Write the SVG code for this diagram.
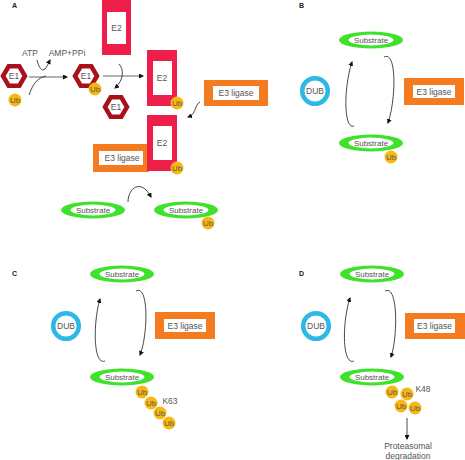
<svg xmlns="http://www.w3.org/2000/svg" width="465" height="460" viewBox="0 0 465 460">
<defs>
<style>
text{font-family:"Liberation Sans",Arial,sans-serif;fill:#555;text-anchor:middle}
.t{font-size:8.5px}
.s{font-size:8px}
.lbl{font-size:7px;font-weight:bold;fill:#222;text-anchor:start}
.e2o{fill:#EF1F4B}
.e3o{fill:#F47B20}
.in{fill:#fff}
.hex{fill:#fff;stroke:#A8101A;stroke-width:4.5;stroke-linejoin:miter}
.ub{fill:#F7B814}
.sg{fill:#3EE22A}
.dub{fill:#fff;stroke:#2DB9E6;stroke-width:4.5}
.ln{fill:none;stroke:#333;stroke-width:0.9}
.lg{fill:none;stroke:#666;stroke-width:1.1}
</style>
<marker id="ah" viewBox="0 0 10 10" refX="8" refY="5" markerWidth="5" markerHeight="5" orient="auto" markerUnits="userSpaceOnUse">
<path d="M0,0 L10,5 L0,10 z" fill="#111"/>
</marker>
</defs>
<rect width="465" height="460" fill="#fff"/>

<!-- Panel labels -->
<text class="lbl" x="12" y="8">A</text>
<text class="lbl" x="299" y="8">B</text>
<text class="lbl" x="12" y="276">C</text>
<text class="lbl" x="299" y="276">D</text>

<!-- Panel A nodes -->
<g id="a-e1-1"><polygon class="hex" points="3,76 8.7,66.3 19.3,66.3 25,76 19.3,85.7 8.7,85.7"/><text class="t" x="14" y="79">E1</text></g>
<g id="a-ub-1"><circle cx="15" cy="100" r="6.5" class="ub"/><text class="s" x="15" y="103">Ub</text></g>
<g id="a-atp"><text class="t" x="30" y="56">ATP</text></g>
<g id="a-amp"><text class="t" x="67" y="56">AMP+PPi</text></g>
<g id="a-e1-2"><polygon class="hex" points="75,76 80.7,66.3 91.3,66.3 97,76 91.3,85.7 80.7,85.7"/><text class="t" x="86" y="79">E1</text><circle cx="95" cy="89" r="6.5" class="ub"/><text class="s" x="95" y="92">Ub</text></g>
<g id="a-e1-3"><polygon class="hex" points="105,107 110.7,97.3 121.3,97.3 127,107 121.3,116.7 110.7,116.7"/><text class="t" x="116" y="110">E1</text></g>
<g id="a-e2-1"><rect class="e2o" x="102" y="0" width="29" height="55"/><rect class="in" x="107" y="12" width="19" height="32"/><text class="t" x="116.5" y="31">E2</text></g>
<g id="a-e2-2"><rect class="e2o" x="147" y="50" width="30" height="56"/><rect class="in" x="153" y="61" width="19" height="34"/><text class="t" x="162" y="81">E2</text><circle cx="177" cy="103" r="6.5" class="ub"/><text class="s" x="177" y="106">Ub</text></g>
<g id="a-e3-1"><rect class="e3o" x="204" y="80" width="64" height="26"/><rect class="in" x="213" y="86" width="46" height="14"/><text class="t" x="236" y="96">E3 ligase</text></g>
<g id="a-e3-2"><rect class="e3o" x="93" y="144" width="56" height="28"/><rect class="in" x="99" y="151" width="44" height="14"/><text class="t" x="122" y="161">E3 ligase</text></g>
<g id="a-e2-3"><rect class="e2o" x="147" y="115" width="30" height="56"/><rect class="in" x="153" y="126" width="19" height="34"/><text class="t" x="162" y="146">E2</text><circle cx="177" cy="168" r="6.5" class="ub"/><text class="s" x="177" y="171">Ub</text></g>
<g id="a-sub-1"><ellipse class="sg" cx="93" cy="210" rx="32" ry="8.5"/><ellipse class="in" cx="93" cy="210" rx="22.5" ry="5.4"/><text class="s" x="93" y="213">Substrate</text></g>
<g id="a-sub-2"><ellipse class="sg" cx="186" cy="210" rx="32" ry="8.5"/><ellipse class="in" cx="186" cy="210" rx="22.5" ry="5.4"/><text class="s" x="186" y="213">Substrate</text><circle cx="208" cy="223" r="6.5" class="ub"/><text class="s" x="208" y="226">Ub</text></g>

<!-- Panel B nodes -->
<g id="b-sub-1"><ellipse class="sg" cx="371" cy="40" rx="32" ry="8.5"/><ellipse class="in" cx="371" cy="40" rx="22.5" ry="5.4"/><text class="s" x="371" y="43">Substrate</text></g>
<g id="b-dub"><circle class="dub" cx="315" cy="91" r="12.8"/><text class="t" x="315" y="94">DUB</text></g>
<g id="b-e3"><rect class="e3o" x="404" y="78" width="60" height="27"/><rect class="in" x="413" y="85" width="42" height="13"/><text class="t" x="434" y="94.5">E3 ligase</text></g>
<g id="b-sub-2"><ellipse class="sg" cx="371" cy="143" rx="32" ry="8.5"/><ellipse class="in" cx="371" cy="143" rx="22.5" ry="5.4"/><text class="s" x="371" y="146">Substrate</text><circle cx="391" cy="157" r="6.5" class="ub"/><text class="s" x="391" y="160">Ub</text></g>

<!-- Panel C nodes -->
<g id="c-sub-1"><ellipse class="sg" cx="122" cy="274" rx="32" ry="8.5"/><ellipse class="in" cx="122" cy="274" rx="22.5" ry="5.4"/><text class="s" x="122" y="277">Substrate</text></g>
<g id="c-dub"><circle class="dub" cx="66" cy="326" r="12.8"/><text class="t" x="66" y="329">DUB</text></g>
<g id="c-e3"><rect class="e3o" x="155" y="312" width="60" height="27"/><rect class="in" x="164" y="319" width="42" height="13"/><text class="t" x="185" y="328.5">E3 ligase</text></g>
<g id="c-sub-2"><ellipse class="sg" cx="122" cy="377" rx="32" ry="8.5"/><ellipse class="in" cx="122" cy="377" rx="22.5" ry="5.4"/><text class="s" x="122" y="380">Substrate</text></g>
<g id="c-ubchain">
<circle cx="142" cy="392" r="6.5" class="ub"/><text class="s" x="142" y="395">Ub</text>
<circle cx="151" cy="403" r="6.5" class="ub"/><text class="s" x="151" y="406">Ub</text>
<circle cx="160" cy="413" r="6.5" class="ub"/><text class="s" x="160" y="416">Ub</text>
<circle cx="169" cy="423" r="6.5" class="ub"/><text class="s" x="169" y="426">Ub</text>
<text class="t" x="170" y="404">K63</text>
</g>

<!-- Panel D nodes -->
<g id="d-sub-1"><ellipse class="sg" cx="372" cy="274" rx="32" ry="8.5"/><ellipse class="in" cx="372" cy="274" rx="22.5" ry="5.4"/><text class="s" x="372" y="277">Substrate</text></g>
<g id="d-dub"><circle class="dub" cx="316" cy="326" r="12.8"/><text class="t" x="316" y="329">DUB</text></g>
<g id="d-e3"><rect class="e3o" x="405" y="313" width="60" height="26"/><rect class="in" x="414" y="319" width="41" height="14"/><text class="t" x="434.5" y="329">E3 ligase</text></g>
<g id="d-sub-2"><ellipse class="sg" cx="372" cy="377" rx="32" ry="8.5"/><ellipse class="in" cx="372" cy="377" rx="22.5" ry="5.4"/><text class="s" x="372" y="380">Substrate</text></g>
<g id="d-ubchain">
<circle cx="392" cy="392" r="6.5" class="ub"/><text class="s" x="392" y="395">Ub</text>
<circle cx="407" cy="394" r="6.5" class="ub"/><text class="s" x="407" y="397">Ub</text>
<circle cx="401" cy="406" r="6.5" class="ub"/><text class="s" x="401" y="409">Ub</text>
<circle cx="415" cy="408" r="6.5" class="ub"/><text class="s" x="415" y="411">Ub</text>
<text class="t" x="423" y="392">K48</text>
</g>
<g id="d-prot"><text class="t" x="408" y="449">Proteasomal</text><text class="t" x="408" y="459">degradation</text></g>

<!-- Connectors -->
<g id="connectors">
<path class="lg" d="M29,77 L67,77" marker-end="url(#ah)"/>
<path class="ln" d="M29,95 C33,84 37,78 46,76"/>
<path class="ln" d="M37,60 C39,68 42,72 45,69 C47,67 48,64 50,60" marker-end="url(#ah)"/>
<path class="lg" d="M103,76 L143,76" marker-end="url(#ah)"/>
<path class="ln" d="M119,64 C124,69 124,80 115,88" marker-end="url(#ah)"/>
<path class="ln" d="M200,102 C194,105 197,114 188,117" marker-end="url(#ah)"/>
<path class="ln" d="M128,202 C128,188 141,178 151,197" marker-end="url(#ah)"/>

<path class="ln" d="M354,126 C343,130 344,85 352,62" marker-end="url(#ah)"/>
<path class="ln" d="M384,57 C397,50 396,100 388,123" marker-end="url(#ah)"/>

<path class="ln" d="M105,361 C93,366 93,322 100,299" marker-end="url(#ah)"/>
<path class="ln" d="M136,291 C149,284 148,335 140,355" marker-end="url(#ah)"/>

<path class="ln" d="M354,361 C342,366 342,322 350,298" marker-end="url(#ah)"/>
<path class="ln" d="M385,291 C398,284 398,336 391,357" marker-end="url(#ah)"/>

<path class="ln" d="M407,418 L407,439" marker-end="url(#ah)"/>
</g>
</svg>
